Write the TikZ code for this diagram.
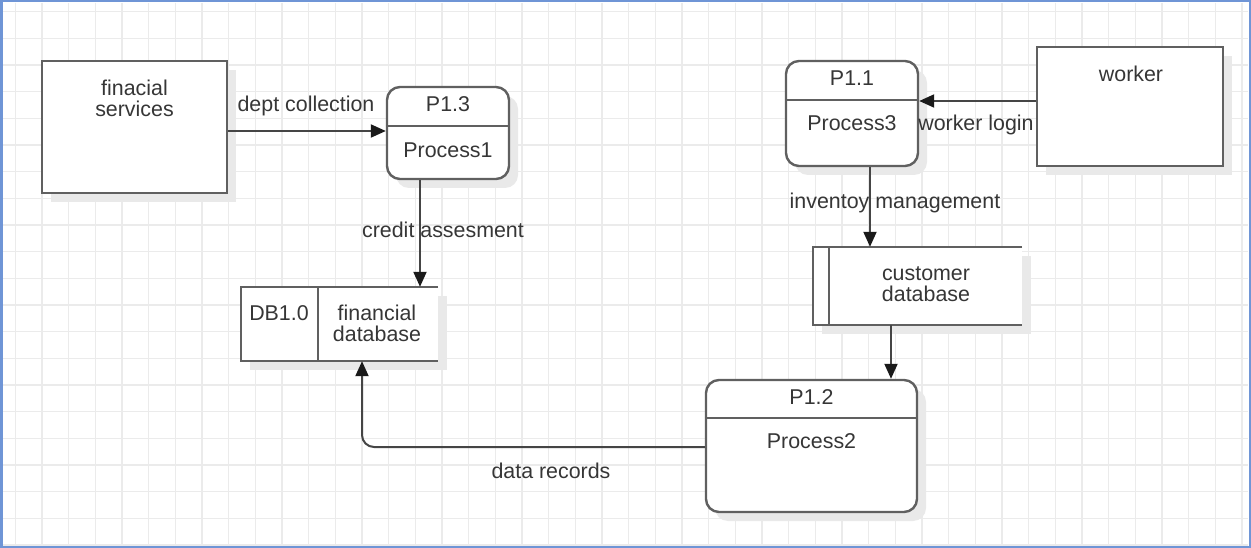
\documentclass[tikz,border=0pt]{standalone}
\usepackage{fontspec}
\setmainfont{Liberation Sans}
\usetikzlibrary{arrows.meta,shadows}
\definecolor{gridc}{HTML}{EBEBEB}
\definecolor{frame}{HTML}{6F95D6}
\definecolor{edge}{HTML}{606060}
\definecolor{wire}{HTML}{454545}
\definecolor{txt}{HTML}{363636}
\definecolor{shade}{HTML}{E9E9E9}
\definecolor{tipc}{HTML}{1A1A1A}
\begin{document}
\begin{tikzpicture}[x=1pt,y=-1pt,
  gridline/.style={gridc,line width=1.2pt},
  shd/.style={drop shadow={shadow xshift=9pt,shadow yshift=-9pt,fill=shade,opacity=1}},
  entity/.style={draw=edge,line width=2.4pt,fill=white,shd,inner sep=0pt},
  proc/.style={entity,rounded corners=13pt},
  store/.style={fill=white,shd,inner sep=0pt},
  boxline/.style={edge,line width=2.4pt},
  flow/.style={wire,line width=2pt,-{Triangle[length=15pt,width=13pt,color=tipc]}},
  lbl/.style={text=txt,font=\fontsize{21.4}{21}\selectfont,align=center,inner sep=0pt}
]
\useasboundingbox (0,0) rectangle (1251,548);
\fill[white] (0,0) rectangle (1251,548);

% background grid
\foreach \i in {0,...,46}
  \draw[gridline] ({15.33+\i*26.667},3) -- ({15.33+\i*26.667},546);
\foreach \j in {0,...,20}
  \draw[gridline] (3,{11.67+\j*26.667}) -- (1248,{11.67+\j*26.667});

% external entities
\node[entity,minimum width=185pt,minimum height=132pt] (fs) at (134.5,127) {};
\node[lbl] at (134.5,98) {finacial\\services};
\node[entity,minimum width=186pt,minimum height=119pt] (wk) at (1130,106.5) {};
\node[lbl] at (1131,74) {worker};

% processes
\node[proc,minimum width=122pt,minimum height=92pt] (p13) at (448,133) {};
\draw[boxline] (p13.west |- 0,126) -- (p13.east |- 0,126);
\node[lbl] at (448,104) {P1.3};
\node[lbl] at (448,150) {Process1};

\node[proc,minimum width=132pt,minimum height=105pt] (p11) at (852,113.5) {};
\draw[boxline] (p11.west |- 0,100) -- (p11.east |- 0,100);
\node[lbl] at (852,78) {P1.1};
\node[lbl] at (852,123) {Process3};

\node[proc,minimum width=211pt,minimum height=132pt] (p12) at (811.5,446) {};
\draw[boxline] (p12.west |- 0,418) -- (p12.east |- 0,418);
\node[lbl] at (811.5,397) {P1.2};
\node[lbl] at (811.5,441) {Process2};

% data stores
\node[store,minimum width=197pt,minimum height=74pt] (db1) at (339.5,324) {};
\draw[boxline] (db1.north east) -- (db1.north west) -- (db1.south west) -- (db1.south east);
\draw[boxline] (318,287) -- (318,361);
\node[lbl] at (279,313) {DB1.0};
\node[lbl] at (377,323) {financial\\database};

\node[store,minimum width=209pt,minimum height=78pt] (cdb) at (917.5,286) {};
\draw[boxline] (cdb.north east) -- (cdb.north west) -- (cdb.south west) -- (cdb.south east);
\draw[boxline] (829,247) -- (829,325);
\node[lbl] at (926,284) {customer\\database};

% data flows
\draw[flow] (fs.east |- 0,131) -- (p13.west |- 0,131);
\node[lbl] at (306,106) {dept collection};

\draw[flow] (p13.south -| 420,0) -- (db1.north -| 420,0);
\node[lbl] at (443,230) {credit assesment};

\draw[flow] (wk.west |- 0,101) -- (p11.east |- 0,101);
\node[lbl] at (976,125) {worker login};

\draw[flow] (p11.south -| 870,0) -- (cdb.north -| 870,0);
\node[lbl] at (895,203) {inventoy management};

\draw[flow] (cdb.south -| 891,0) -- (p12.north -| 891,0);

\draw[flow,rounded corners=12pt] (p12.west |- 0,447) -| (db1.south -| 362,0);
\node[lbl] at (551,471) {data records};

% window frame
\draw[frame,line width=2.5pt] (1.25,1.25) rectangle (1249.75,546.75);
\end{tikzpicture}
\end{document}
